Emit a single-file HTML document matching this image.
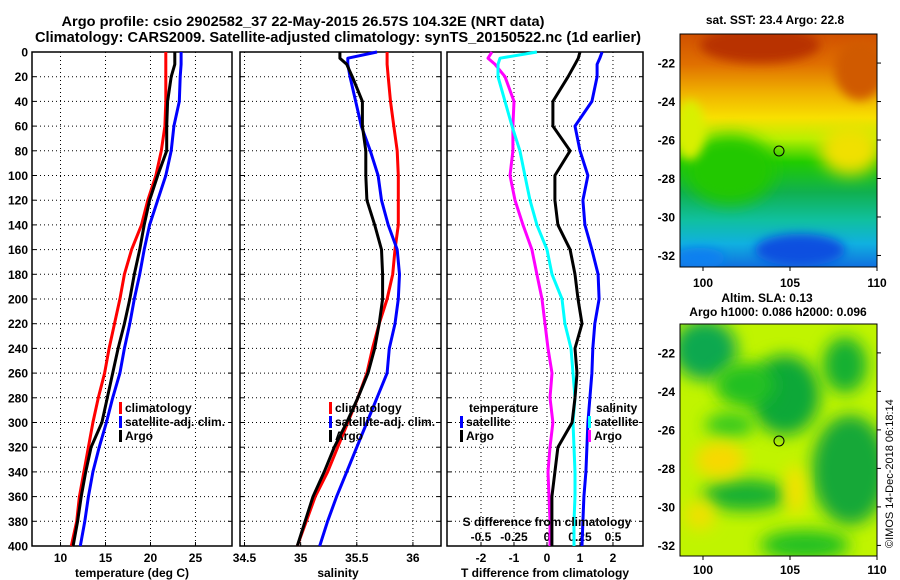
<!DOCTYPE html>
<html><head><meta charset="utf-8"><style>
body{margin:0;background:#fff;}
svg{display:block;font-family:"Liberation Sans",sans-serif;font-weight:bold;}
</style></head><body>
<svg id="fig" width="900" height="580" viewBox="0 0 900 580" xmlns="http://www.w3.org/2000/svg">
<defs>
<filter id="bl" x="-50%" y="-50%" width="200%" height="200%"><feGaussianBlur stdDeviation="8"/></filter>
<filter id="bl2" x="-50%" y="-50%" width="200%" height="200%"><feGaussianBlur stdDeviation="5"/></filter>
<clipPath id="c1"><rect x="680" y="34" width="197" height="233"/></clipPath>
<clipPath id="c2"><rect x="680" y="324" width="197" height="232"/></clipPath>
<linearGradient id="sst" x1="0" y1="0" x2="0" y2="1">
<stop offset="0" stop-color="#d05000"/><stop offset="0.13" stop-color="#e07000"/><stop offset="0.25" stop-color="#f0b000"/>
<stop offset="0.36" stop-color="#f8e000"/><stop offset="0.45" stop-color="#b8f000"/><stop offset="0.55" stop-color="#20cc00"/>
<stop offset="0.68" stop-color="#10b050"/><stop offset="0.8" stop-color="#10c0a0"/><stop offset="0.9" stop-color="#10b0e0"/><stop offset="1" stop-color="#1070e0"/>
</linearGradient>
</defs>
<text x="303" y="26" text-anchor="middle" font-size="14" textLength="483" lengthAdjust="spacingAndGlyphs">Argo profile: csio 2902582_37 22-May-2015 26.57S 104.32E (NRT data)</text>
<text x="338" y="42" text-anchor="middle" font-size="14.5" textLength="606" lengthAdjust="spacingAndGlyphs">Climatology: CARS2009. Satellite-adjusted climatology: synTS_20150522.nc (1d earlier)</text>
<g id="plots"></g>
<g id="maps">
<g clip-path="url(#c1)">
<rect x="680" y="34" width="197" height="233" fill="url(#sst)"/>
<ellipse cx="760" cy="45" rx="60" ry="18" fill="#b83000" filter="url(#bl2)"/>
<ellipse cx="860" cy="70" rx="25" ry="30" fill="#d05a00" filter="url(#bl2)"/>
<ellipse cx="730" cy="170" rx="45" ry="35" fill="#20c800" filter="url(#bl)"/>
<ellipse cx="850" cy="150" rx="30" ry="25" fill="#f0e000" filter="url(#bl)"/>
<ellipse cx="690" cy="130" rx="15" ry="30" fill="#d8f000" filter="url(#bl2)"/>
<ellipse cx="800" cy="250" rx="45" ry="16" fill="#1050e0" filter="url(#bl2)"/>
<ellipse cx="700" cy="258" rx="25" ry="10" fill="#1080f0" filter="url(#bl2)"/>
</g>
<rect x="680" y="34" width="197" height="233" fill="none" stroke="#000"/>
<circle cx="779" cy="151" r="5" fill="none" stroke="#000"/>
<g clip-path="url(#c2)">
<rect x="680" y="324" width="197" height="232" fill="#c0f400"/>
<ellipse cx="705" cy="350" rx="32" ry="30" fill="#10a850" filter="url(#bl)"/>
<ellipse cx="785" cy="395" rx="35" ry="40" fill="#10a838" filter="url(#bl)"/>
<ellipse cx="745" cy="385" rx="30" ry="22" fill="#20c020" filter="url(#bl)"/>
<ellipse cx="845" cy="365" rx="22" ry="28" fill="#18b030" filter="url(#bl)"/>
<ellipse cx="850" cy="470" rx="38" ry="55" fill="#18a838" filter="url(#bl)"/>
<ellipse cx="745" cy="495" rx="42" ry="16" fill="#18b030" filter="url(#bl)"/>
<ellipse cx="805" cy="545" rx="45" ry="15" fill="#20c020" filter="url(#bl)"/>
<ellipse cx="730" cy="425" rx="25" ry="12" fill="#30c820" filter="url(#bl)"/>
<ellipse cx="720" cy="460" rx="25" ry="18" fill="#f8d800" filter="url(#bl)"/>
<ellipse cx="795" cy="490" rx="10" ry="25" fill="#f8e000" filter="url(#bl)"/>
<ellipse cx="700" cy="515" rx="15" ry="15" fill="#f0e000" filter="url(#bl)"/>
</g>
<rect x="680" y="324" width="197" height="232" fill="none" stroke="#000"/>
<circle cx="779" cy="441" r="5" fill="none" stroke="#000"/>
<text x="775" y="24" text-anchor="middle" font-size="12">sat. SST: 23.4 Argo: 22.8</text>
<text x="767" y="302" text-anchor="middle" font-size="12">Altim. SLA: 0.13</text>
<text x="778" y="316" text-anchor="middle" font-size="12">Argo h1000: 0.086 h2000: 0.096</text>
<text transform="translate(893,548) rotate(-90)" font-size="11" font-weight="normal">©IMOS 14-Dec-2018 06:18:14</text>
</g>
</svg>
<script>
const depths=[0,5,10,20,40,60,80,100,120,140,160,180,200,220,240,260,280,300,320,340,360,380,400];
const tClim=[21.7,21.7,21.7,21.7,21.7,21.6,21.2,20.6,19.7,19.0,17.9,17.1,16.6,16.0,15.4,14.9,14.2,13.6,13.1,12.6,12.1,11.8,11.2];
const tSat=[23.4,23.4,23.4,23.3,23.2,22.6,22.3,21.7,20.8,19.9,19.3,18.8,18.2,17.7,17.1,16.6,15.8,15.1,14.3,13.6,13.1,12.7,12.2];
const tArgo=[22.7,22.7,22.7,22.3,21.9,21.8,21.8,20.8,19.9,19.3,18.8,18.2,17.7,17.1,16.4,15.8,15.2,14.6,13.4,12.8,12.3,11.9,11.4];
const sClim=[35.77,35.77,35.77,35.78,35.8,35.83,35.86,35.87,35.87,35.87,35.84,35.82,35.77,35.7,35.64,35.59,35.51,35.42,35.33,35.24,35.13,35.05,34.97];
const sSat=[35.68,35.42,35.42,35.44,35.49,35.54,35.62,35.69,35.72,35.78,35.86,35.88,35.87,35.84,35.79,35.77,35.68,35.59,35.5,35.41,35.32,35.24,35.17];
const sArgo=[35.35,35.35,35.41,35.46,35.55,35.55,35.58,35.58,35.59,35.66,35.72,35.73,35.73,35.7,35.66,35.6,35.51,35.41,35.3,35.21,35.11,35.04,34.97];
const dTArgo=[1.0,0.95,0.85,0.64,0.18,0.18,0.7,0.24,0.24,0.33,0.7,0.85,0.94,1.06,0.85,0.91,0.85,0.76,0.33,0.24,0.15,0.15,0.15];
const dTSat=[1.67,1.6,1.52,1.52,1.36,0.85,1.0,1.24,1.09,1.15,1.36,1.55,1.58,1.45,1.39,1.36,1.3,1.24,1.21,1.18,1.12,1.09,1.06];
const dSSat=[-0.076,-0.356,-0.371,-0.371,-0.318,-0.265,-0.205,-0.167,-0.129,-0.076,0,0.038,0.114,0.136,0.182,0.197,0.212,0.197,0.205,0.212,0.212,0.205,0.205];
const dSArgo=[-0.417,-0.447,-0.394,-0.318,-0.25,-0.258,-0.258,-0.28,-0.242,-0.182,-0.114,-0.076,-0.038,-0.015,0.008,0.038,0.023,0.045,0.023,0.008,0.015,0.023,0.023];
const depthTicks=[0,20,40,60,80,100,120,140,160,180,200,220,240,260,280,300,320,340,360,380,400];
const tTicks=[10,15,20,25];
const sTicks=[34.5,35,35.5,36];
const dtTicks=[-2,-1,0,1,2];
const dsTicks=[-0.5,-0.25,0,0.25,0.5];
const dsTickLabels=["-0.5","-0.25","0","0.25","0.5"];
const latTicks=[-22,-24,-26,-28,-30,-32];
const lonTicks=[100,105,110];

const NS='http://www.w3.org/2000/svg';
const g=document.getElementById('plots');
function el(tag,attrs,parent){const e=document.createElementNS(NS,tag);for(const k in attrs)e.setAttribute(k,attrs[k]);(parent||g).appendChild(e);return e;}
const Y0=52,Y1=546;
const yD=d=>Y0+d*(Y1-Y0)/400;
const panels=[
 {x0:32,x1:232,v0:6.83,v1:29.06,name:'temperature'},
 {x0:240,x1:441,v0:34.46,v1:36.25,name:'salinity'},
 {x0:447,x1:643,v0:-3.03,v1:2.91,name:'t-difference'}];
const xF=p=>v=>p.x0+(v-p.v0)*(p.x1-p.x0)/(p.v1-p.v0);
const xT=xF(panels[0]),xS=xF(panels[1]),xDT=xF(panels[2]);
const xDS=v=>xDT(v*4);

panels.forEach((p,i)=>{
 depthTicks.forEach(d=>{
  const l=el('line',{x1:p.x0,x2:p.x1,y1:yD(d),y2:yD(d),stroke:'#000','stroke-dasharray':'1 3'});
  
  
  const t1=el('line',{x1:p.x0,x2:p.x0+4,y1:yD(d),y2:yD(d),stroke:'#000'});
  
  
  const t2=el('line',{x1:p.x1-4,x2:p.x1,y1:yD(d),y2:yD(d),stroke:'#000'});
  
  
 });
});
depthTicks.forEach(d=>{
 const t=el('text',{x:28,y:yD(d)+4.5,'text-anchor':'end','font-size':12});
 t.textContent=d;
 
 
});
function vgrid(ticks,fx,p,labels,ly){
 ticks.forEach((v,i)=>{
  const x=fx(v);
  const l=el('line',{x1:x,x2:x,y1:Y0,y2:Y1,stroke:'#000','stroke-dasharray':'1 3'});
  
  
  const t=el('line',{x1:x,x2:x,y1:Y1-4,y2:Y1,stroke:'#000'});
  
  
  if(labels){const tx=el('text',{x:x,y:ly,'text-anchor':'middle','font-size':12});
   tx.textContent=labels[i];
   
   }
 });
}
vgrid(tTicks,xT,panels[0],tTicks,562);
vgrid(sTicks,xS,panels[1],sTicks,562);
vgrid(dtTicks,xDT,panels[2],dtTicks,562);
dsTicks.forEach((v,i)=>{
 const t=el('text',{x:xDS(v),y:541,'text-anchor':'middle','font-size':12});
 t.textContent=dsTickLabels[i];
 
 
});
panels.forEach(p=>{
 const r=el('rect',{x:p.x0,y:Y0,width:p.x1-p.x0,height:Y1-Y0,fill:'none',stroke:'#000','stroke-width':1.5});
 
 
});
function series(vals,fx,color,name){
 const pts=vals.map((v,i)=>fx(v).toFixed(1)+','+yD(depths[i]).toFixed(1)).join(' ');
 const l=el('polyline',{points:pts,fill:'none',stroke:color,'stroke-width':3,'stroke-linejoin':'round'});
 
 
}
series(tClim,xT,'#ff0000','temperature-climatology-line');
series(tSat,xT,'#0000ff','temperature-satellite-line');
series(tArgo,xT,'#000000','temperature-argo-line');
series(sClim,xS,'#ff0000','salinity-climatology-line');
series(sSat,xS,'#0000ff','salinity-satellite-line');
series(sArgo,xS,'#000000','salinity-argo-line');
series(dSArgo,xDS,'#ff00ff','s-diff-argo-line');
series(dSSat,xDS,'#00ffff','s-diff-satellite-line');
series(dTArgo,xDT,'#000000','t-diff-argo-line');
series(dTSat,xDT,'#0000ff','t-diff-satellite-line');

function legend(x,y,color,label,name){
 const r=el('rect',{x:x,y:y-10,width:3,height:12,fill:color});
 
 
 const t=el('text',{x:x+6,y:y,'font-size':12});
 t.textContent=label;
 
 
}
legend(119,412,'#ff0000','climatology','t-legend-climatology');
legend(119,426,'#0000ff','satellite-adj. clim.','t-legend-satellite');
legend(119,440,'#000','Argo','t-legend-argo');
legend(329,412,'#ff0000','climatology','s-legend-climatology');
legend(329,426,'#0000ff','satellite-adj. clim.','s-legend-satellite');
legend(329,440,'#000','Argo','s-legend-argo');
legend(460,426,'#0000ff','satellite','diff-legend-t-satellite');
legend(460,440,'#000','Argo','diff-legend-t-argo');
legend(588,426,'#00ffff','satellite','diff-legend-s-satellite');
legend(588,440,'#ff00ff','Argo','diff-legend-s-argo');
function label(x,y,txt,name,anchor,size){
 const t=el('text',{x:x,y:y,'text-anchor':anchor||'middle','font-size':size||12});
 t.textContent=txt;
 
 
}
label(469,412,'temperature','diff-legend-temperature-header','start');
label(596,412,'salinity','diff-legend-salinity-header','start');
label(547,526,'S difference from climatology','s-difference-axis-title');
label(132,577,'temperature (deg C)','temperature-axis-title');
label(338,577,'salinity','salinity-axis-title');
label(545,577,'T difference from climatology','t-difference-axis-title');

const mg=document.getElementById('maps');
const maps=[{top:34,bot:267,latTop:-20.49,latBot:-32.6,lonY:287,name:'sst-map'},
            {top:324,bot:556,latTop:-20.5,latBot:-32.55,lonY:574,name:'sla-map'}];
const lonX=v=>703+(v-100)*17.4;
maps.forEach(m=>{
 const ly=v=>m.top+(v-m.latTop)*(m.bot-m.top)/(m.latBot-m.latTop);
 latTicks.forEach(v=>{
  const t=el('text',{x:675,y:ly(v)+4.5,'text-anchor':'end','font-size':12},mg);
  t.textContent=v;
  
  
  const k=el('line',{x1:877,x2:881,y1:ly(v),y2:ly(v),stroke:'#000'},mg);
  
  
 });
 lonTicks.forEach(v=>{
  const t=el('text',{x:lonX(v),y:m.lonY,'text-anchor':'middle','font-size':12},mg);
  t.textContent=v;
  
  
  const k=el('line',{x1:lonX(v),x2:lonX(v),y1:m.bot,y2:m.bot+4,stroke:'#000'},mg);
  
  
 });
});
</script>
</body></html>
